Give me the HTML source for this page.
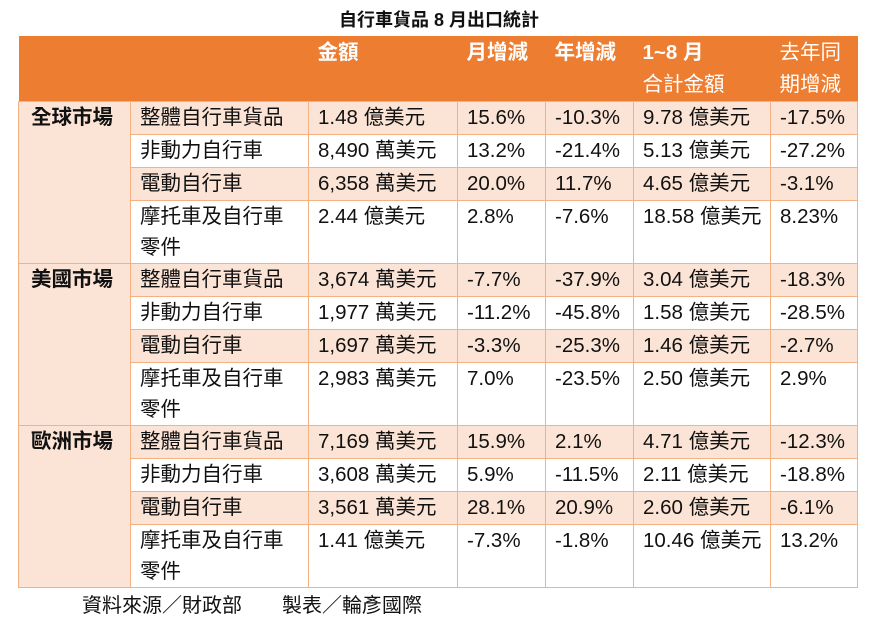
<!DOCTYPE html>
<html><head><meta charset="utf-8"><style>
body{margin:0;width:878px;height:626px;background:#fff;position:relative;overflow:hidden;font-family:"Liberation Sans","Noto Sans CJK TC",sans-serif;color:#111}
.title{position:absolute;top:6px;left:0;width:878px;text-align:center;font-weight:bold;font-size:18px;line-height:28px}
table{position:absolute;left:18px;top:36px;border-collapse:collapse;table-layout:fixed;font-size:20.5px}
td{border:1px solid #F4B183;padding:0 0 0 9px;vertical-align:top;line-height:32px;overflow:hidden;white-space:nowrap}
tr.h td{background:#ED7D31;color:#fff;border:none;font-weight:bold;line-height:32px;padding-top:1px}
tr.h td.n{font-weight:normal}
.s td{background:#FBE4D5}
td.m{background:#FBE4D5;font-weight:bold;padding-left:12px}
.r33 td{height:32px}
.r64 td{height:62px;line-height:31px}
.foot{position:absolute;left:82px;top:591px;font-size:20px;line-height:30px}
</style></head><body>
<div class="title">自行車貨品 8 月出口統計</div>
<table>
<colgroup><col style="width:112px"><col style="width:178px"><col style="width:149px"><col style="width:88px"><col style="width:88px"><col style="width:137px"><col style="width:87px"></colgroup>
<tr class="h" style="height:64px"><td></td><td></td><td>金額</td><td>月增減</td><td>年增減</td><td>1~8 月<br><span style="font-weight:normal">合計金額</span></td><td class="n">去年同<br>期增減</td></tr>

<tr class="s r33"><td class="m" rowspan="4">全球市場</td><td>整體自行車貨品</td><td>1.48 億美元</td><td>15.6%</td><td>-10.3%</td><td>9.78 億美元</td><td>-17.5%</td></tr>
<tr class="r33"><td>非動力自行車</td><td>8,490 萬美元</td><td>13.2%</td><td>-21.4%</td><td>5.13 億美元</td><td>-27.2%</td></tr>
<tr class="s r33"><td>電動自行車</td><td>6,358 萬美元</td><td>20.0%</td><td>11.7%</td><td>4.65 億美元</td><td>-3.1%</td></tr>
<tr class="r64"><td>摩托車及自行車<br>零件</td><td>2.44 億美元</td><td>2.8%</td><td>-7.6%</td><td>18.58 億美元</td><td>8.23%</td></tr>

<tr class="s r33"><td class="m" rowspan="4">美國市場</td><td>整體自行車貨品</td><td>3,674 萬美元</td><td>-7.7%</td><td>-37.9%</td><td>3.04 億美元</td><td>-18.3%</td></tr>
<tr class="r33"><td>非動力自行車</td><td>1,977 萬美元</td><td>-11.2%</td><td>-45.8%</td><td>1.58 億美元</td><td>-28.5%</td></tr>
<tr class="s r33"><td>電動自行車</td><td>1,697 萬美元</td><td>-3.3%</td><td>-25.3%</td><td>1.46 億美元</td><td>-2.7%</td></tr>
<tr class="r64"><td>摩托車及自行車<br>零件</td><td>2,983 萬美元</td><td>7.0%</td><td>-23.5%</td><td>2.50 億美元</td><td>2.9%</td></tr>

<tr class="s r33"><td class="m" rowspan="4">歐洲市場</td><td>整體自行車貨品</td><td>7,169 萬美元</td><td>15.9%</td><td>2.1%</td><td>4.71 億美元</td><td>-12.3%</td></tr>
<tr class="r33"><td>非動力自行車</td><td>3,608 萬美元</td><td>5.9%</td><td>-11.5%</td><td>2.11 億美元</td><td>-18.8%</td></tr>
<tr class="s r33"><td>電動自行車</td><td>3,561 萬美元</td><td>28.1%</td><td>20.9%</td><td>2.60 億美元</td><td>-6.1%</td></tr>
<tr class="r64"><td>摩托車及自行車<br>零件</td><td>1.41 億美元</td><td>-7.3%</td><td>-1.8%</td><td>10.46 億美元</td><td>13.2%</td></tr>
</table>
<div class="foot">資料來源／財政部　　製表／輪彥國際</div>
</body></html>
